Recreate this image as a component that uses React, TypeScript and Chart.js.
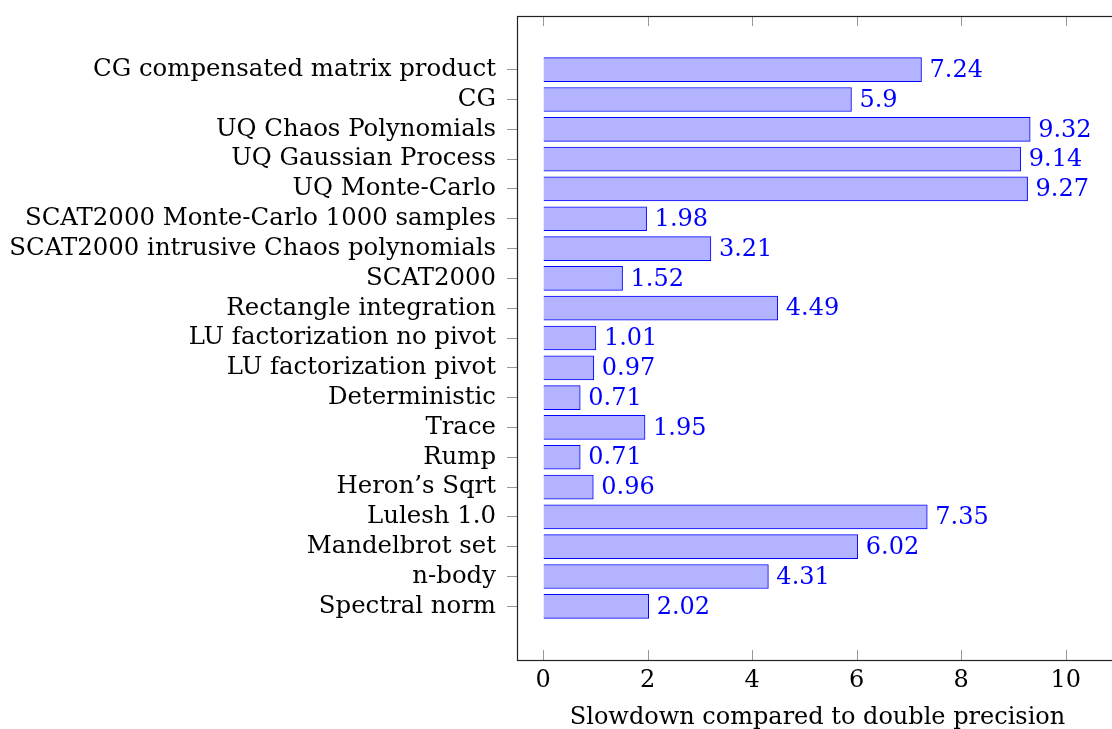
import React, { useEffect, useRef } from 'react';
import { Chart, registerables } from 'chart.js';

Chart.register(...registerables);

const categories = [
  'CG compensated matrix product',
  'CG',
  'UQ Chaos Polynomials',
  'UQ Gaussian Process',
  'UQ Monte-Carlo',
  'SCAT2000 Monte-Carlo 1000 samples',
  'SCAT2000 intrusive Chaos polynomials',
  'SCAT2000',
  'Rectangle integration',
  'LU factorization no pivot',
  'LU factorization pivot',
  'Deterministic',
  'Trace',
  'Rump',
  'Heron’s Sqrt',
  'Lulesh 1.0',
  'Mandelbrot set',
  'n-body',
  'Spectral norm',
];

const slowdown = [7.24, 5.9, 9.32, 9.14, 9.27, 1.98, 3.21, 1.52, 4.49, 1.01, 0.97, 0.71, 1.95, 0.71, 0.96, 7.35, 6.02, 4.31, 2.02];

const xTickValues = [0, 2, 4, 6, 8, 10];
const xTitle = 'Slowdown compared to double precision';

const FONT = "'DejaVu Serif', serif";
const FONT_SIZE = 24;
const LABEL_FONT_SIZE = 24.4;

const framePlugin = {
  id: 'frame',
  afterDraw(chart: any) {
    const { ctx, chartArea: a, scales } = chart;
    const x = scales.x;
    ctx.save();
    ctx.strokeStyle = '#999';
    ctx.lineWidth = 1;
    xTickValues.forEach((v) => {
      const px = Math.round(x.getPixelForValue(v)) + 0.5;
      ctx.beginPath();
      ctx.moveTo(px, a.bottom);
      ctx.lineTo(px, a.bottom - 10);
      ctx.moveTo(px, a.top);
      ctx.lineTo(px, a.top + 10);
      ctx.stroke();
    });
    ctx.strokeStyle = '#222';
    ctx.lineWidth = 1.2;
    ctx.strokeRect(Math.round(a.left) + 0.5, Math.round(a.top) + 0.5, Math.round(a.right - a.left), Math.round(a.bottom - a.top));
    ctx.restore();
  },
};

const valueLabelPlugin = {
  id: 'valueLabels',
  afterDatasetsDraw(chart: any) {
    const { ctx } = chart;
    const meta = chart.getDatasetMeta(0);
    ctx.save();
    ctx.font = `${FONT_SIZE}px ${FONT}`;
    ctx.fillStyle = '#0000ff';
    ctx.textAlign = 'left';
    ctx.textBaseline = 'middle';
    meta.data.forEach((bar: any, i: number) => {
      ctx.fillText(String(slowdown[i]), bar.x + 8, bar.y + 1);
    });
    ctx.restore();
  },
};

export default function App() {
  const canvasRef = useRef<HTMLCanvasElement | null>(null);

  useEffect(() => {
    if (!canvasRef.current) return;
    const chart = new Chart(canvasRef.current, {
      type: 'bar',
      data: {
        datasets: [
          {
            data: slowdown.map((v, i) => ({ x: v, y: i })),
            backgroundColor: 'rgb(179,179,255)',
            borderColor: '#0000ff',
            borderWidth: 1,
            barThickness: 24,
            grouped: false,
          } as any,
        ],
      },
      options: {
        indexAxis: 'y',
        animation: false,
        responsive: true,
        maintainAspectRatio: false,
        layout: { padding: { top: 16, right: 12, left: 0, bottom: 0 } },
        plugins: { legend: { display: false }, tooltip: { enabled: false } },
        scales: {
          x: {
            type: 'linear',
            position: 'bottom',
            min: -0.5,
            max: 11,
            offset: false,
            afterBuildTicks: (s: any) => {
              s.ticks = xTickValues.map((v) => ({ value: v }));
            },
            afterFit: (s: any) => {
              s.height = 69;
              s.paddingLeft = 0;
              s.paddingRight = 0;
            },
            ticks: {
              font: { family: FONT, size: FONT_SIZE, lineHeight: 1 },
              color: '#000',
              padding: 9,
              maxRotation: 0,
              autoSkip: false,
            },
            grid: { drawOnChartArea: false, drawTicks: false, offset: false },
            border: { display: false },
            title: {
              display: true,
              text: xTitle,
              font: { family: FONT, size: FONT_SIZE, lineHeight: 1 },
              color: '#000',
              padding: { top: 0, bottom: -1 },
            },
          },
          y: {
            type: 'linear',
            reverse: true,
            min: -1.8,
            max: 19.8,
            offset: false,
            afterBuildTicks: (s: any) => {
              s.ticks = categories.map((_, i) => ({ value: i }));
            },
            afterFit: (s: any) => {
              s.width = 517;
              s.paddingTop = 0;
              s.paddingBottom = 0;
            },
            ticks: {
              callback: (v: any) => categories[v as number] ?? '',
              font: { family: FONT, size: LABEL_FONT_SIZE, lineHeight: 1 },
              color: '#000',
              padding: 11,
              autoSkip: false,
            },
            grid: { drawOnChartArea: false, drawTicks: true, tickLength: 10, color: '#999', offset: false },
            border: { display: false },
          },
        },
      },
      plugins: [framePlugin, valueLabelPlugin],
    });
    return () => chart.destroy();
  }, []);

  return (
    <div style={{ position: 'absolute', left: 0, top: 0, width: 1112, height: 729, overflow: 'hidden', background: '#fff' }}>
      <div style={{ position: 'relative', width: 1130, height: 729 }}>
        <canvas ref={canvasRef} />
      </div>
    </div>
  );
}
